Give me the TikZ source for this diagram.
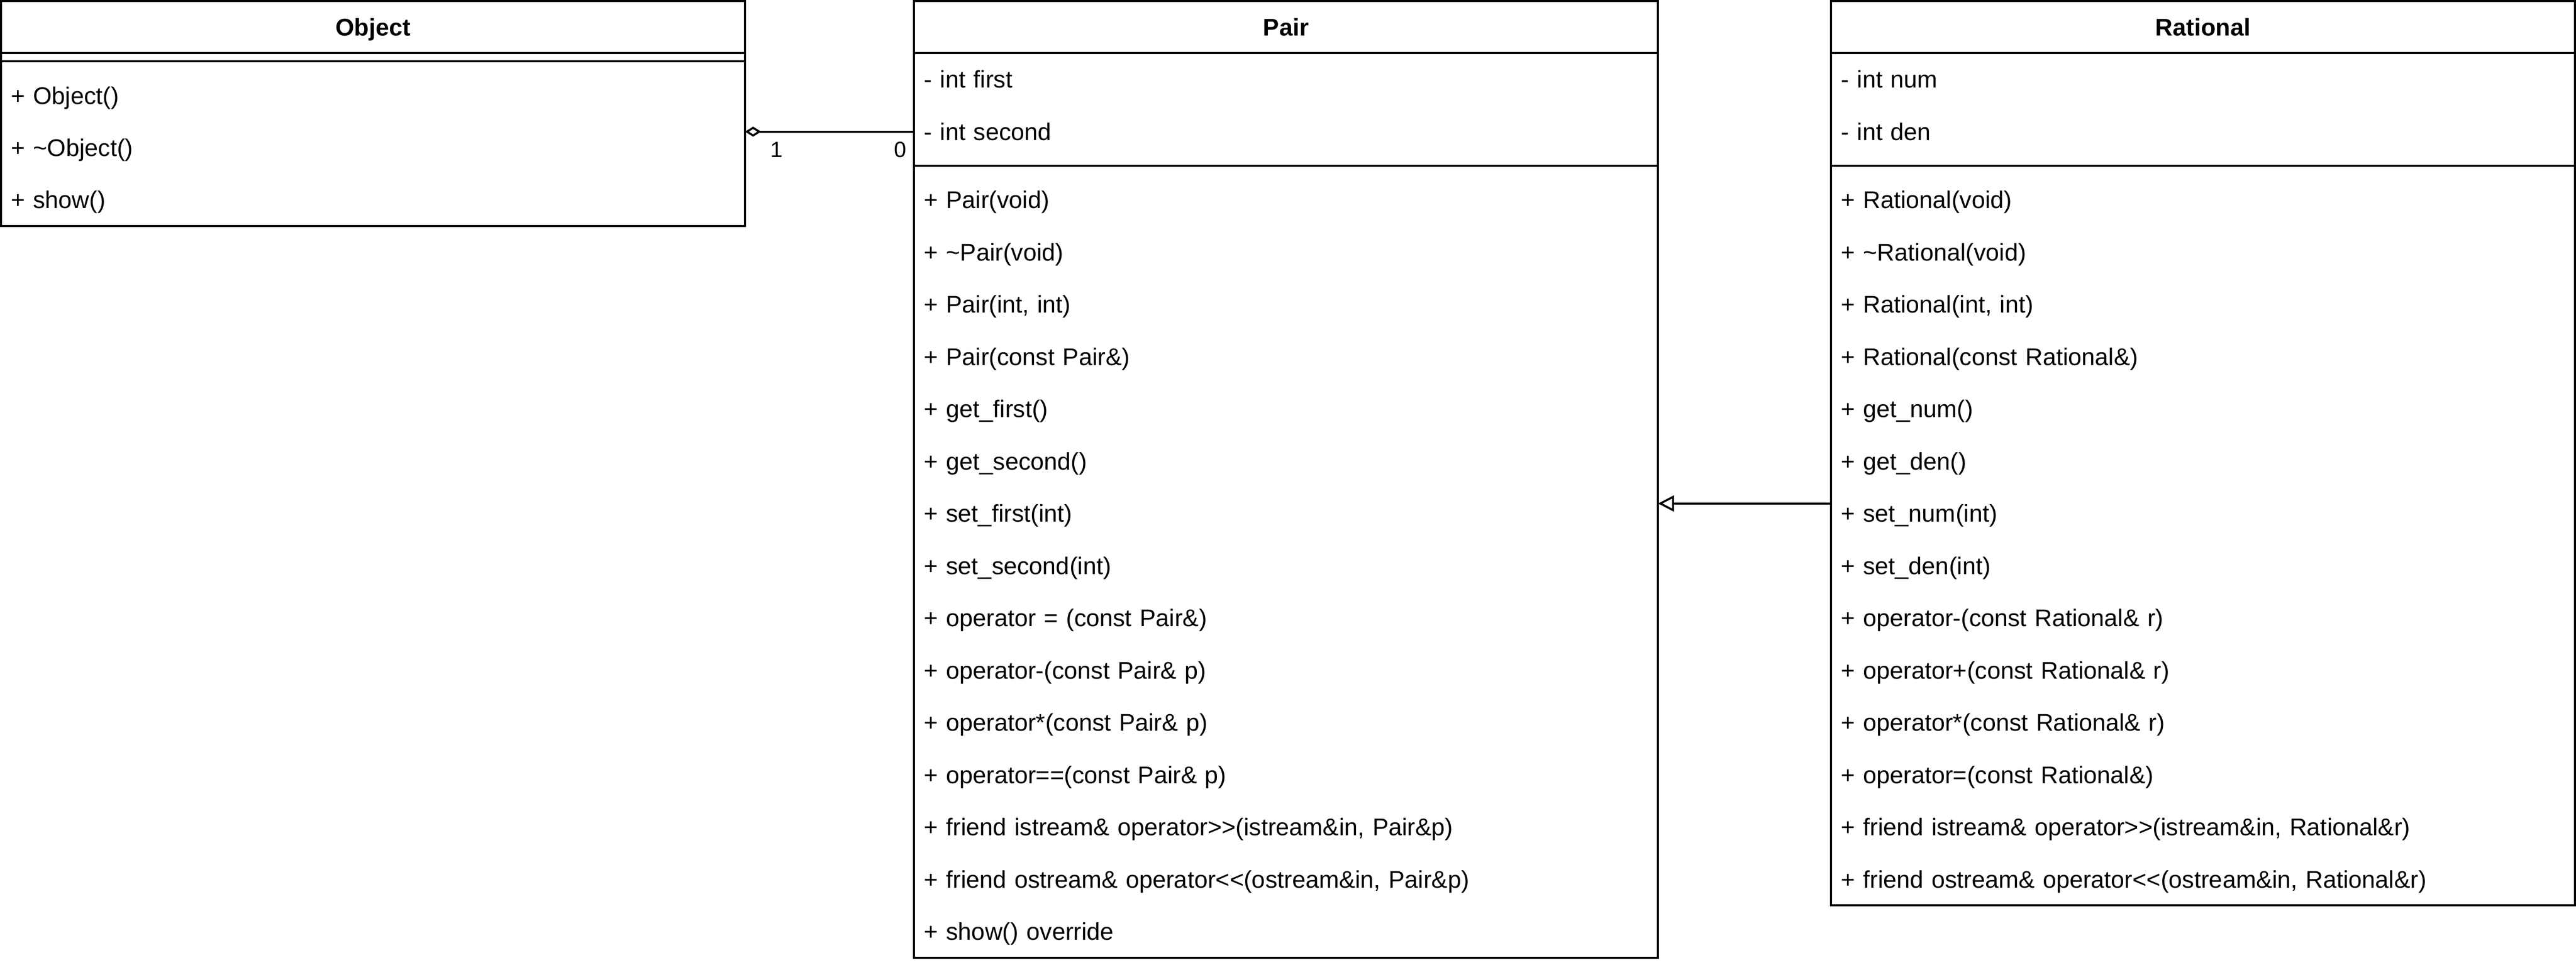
\documentclass[tikz,border=0pt]{standalone}
\usepackage{fontspec}
\usepackage{tikz}
\usetikzlibrary{arrows.meta}
\newfontfamily\umlfont{Liberation Sans}

\begin{document}
\begin{tikzpicture}[x=1pt, y=-1pt, font=\umlfont\fontsize{12pt}{14pt}\selectfont,
        classbox/.style={draw, line width=1pt, anchor=north west, minimum width=370pt, inner sep=0pt, outer sep=0pt},
        classtitle/.style={anchor=north west, minimum width=370pt, minimum height=26pt, inner sep=0pt, outer sep=0pt, text height=10.5pt, text depth=2pt, font=\umlfont\bfseries\fontsize{12pt}{14pt}\selectfont},
        member/.style={anchor=north west, text width=360pt, minimum height=26pt, inner xsep=5pt, inner ysep=0pt, outer sep=0pt, align=left, text height=10.5pt, text depth=2pt},
        mult/.style={inner sep=0pt, font=\umlfont\fontsize{11pt}{13pt}\selectfont}]
        \useasboundingbox (0,0) rectangle (1281,480);

        % Object
        \node [classbox, minimum height=112pt] (object) at (0.5,0.5) {};
        \node [classtitle] (object-title) at (0.5,0.5) {Object};
        \draw [line width=1pt] (object-title.south west) -- (object-title.south east);
        \draw [line width=1pt] ([yshift=-4pt]object-title.south west) -- ([yshift=-4pt]object-title.south east);
        \node [member] (object-ctor) at (0.5,34.5) {+ Object()};
        \node [member] (object-dtor) at (0.5,60.5) {+ \textasciitilde Object()};
        \node [member] (object-show) at (0.5,86.5) {+ show()};

        % Pair
        \node [classbox, minimum height=476pt] (pair) at (454.5,0.5) {};
        \node [classtitle] (pair-title) at (454.5,0.5) {Pair};
        \draw [line width=1pt] (pair-title.south west) -- (pair-title.south east);
        \node [member] (pair-first) at (454.5,26.5) {- int first};
        \node [member] (pair-second) at (454.5,52.5) {- int second};
        \draw [line width=1pt] ([yshift=-4pt]pair-second.south west) -- ([yshift=-4pt]pair-second.south east);
        \node [member] (pair-m1) at (454.5,86.5) {+ Pair(void)};
        \node [member] (pair-m2) at (454.5,112.5) {+ \textasciitilde Pair(void)};
        \node [member] (pair-m3) at (454.5,138.5) {+ Pair(int, int)};
        \node [member] (pair-m4) at (454.5,164.5) {+ Pair(const Pair\&)};
        \node [member] (pair-m5) at (454.5,190.5) {+ get\_first()};
        \node [member] (pair-m6) at (454.5,216.5) {+ get\_second()};
        \node [member] (pair-m7) at (454.5,242.5) {+ set\_first(int)};
        \node [member] (pair-m8) at (454.5,268.5) {+ set\_second(int)};
        \node [member] (pair-m9) at (454.5,294.5) {+ operator = (const Pair\&)};
        \node [member] (pair-m10) at (454.5,320.5) {+ operator-(const Pair\& p)};
        \node [member] (pair-m11) at (454.5,346.5) {+ operator*(const Pair\& p)};
        \node [member] (pair-m12) at (454.5,372.5) {+ operator==(const Pair\& p)};
        \node [member] (pair-m13) at (454.5,398.5) {+ friend istream\& operator>>(istream\&in, Pair\&p)};
        \node [member] (pair-m14) at (454.5,424.5) {+ friend ostream\& operator<<(ostream\&in, Pair\&p)};
        \node [member] (pair-m15) at (454.5,450.5) {+ show() override};

        % Rational
        \node [classbox, minimum height=450pt] (rational) at (910.5,0.5) {};
        \node [classtitle] (rational-title) at (910.5,0.5) {Rational};
        \draw [line width=1pt] (rational-title.south west) -- (rational-title.south east);
        \node [member] (rational-num) at (910.5,26.5) {- int num};
        \node [member] (rational-den) at (910.5,52.5) {- int den};
        \draw [line width=1pt] ([yshift=-4pt]rational-den.south west) -- ([yshift=-4pt]rational-den.south east);
        \node [member] (rational-m1) at (910.5,86.5) {+ Rational(void)};
        \node [member] (rational-m2) at (910.5,112.5) {+ \textasciitilde Rational(void)};
        \node [member] (rational-m3) at (910.5,138.5) {+ Rational(int, int)};
        \node [member] (rational-m4) at (910.5,164.5) {+ Rational(const Rational\&)};
        \node [member] (rational-m5) at (910.5,190.5) {+ get\_num()};
        \node [member] (rational-m6) at (910.5,216.5) {+ get\_den()};
        \node [member] (rational-m7) at (910.5,242.5) {+ set\_num(int)};
        \node [member] (rational-m8) at (910.5,268.5) {+ set\_den(int)};
        \node [member] (rational-m9) at (910.5,294.5) {+ operator-(const Rational\& r)};
        \node [member] (rational-m10) at (910.5,320.5) {+ operator+(const Rational\& r)};
        \node [member] (rational-m11) at (910.5,346.5) {+ operator*(const Rational\& r)};
        \node [member] (rational-m12) at (910.5,372.5) {+ operator=(const Rational\&)};
        \node [member] (rational-m13) at (910.5,398.5) {+ friend istream\& operator>>(istream\&in, Rational\&r)};
        \node [member] (rational-m14) at (910.5,424.5) {+ friend ostream\& operator<<(ostream\&in, Rational\&r)};

        % aggregation Pair -> Object
        \draw [line width=1pt, -{Diamond[open, length=8pt, width=5pt]}] (pair-second.west) -- (pair-second.west -| object.east);
        \node [mult, anchor=base west] (agg-one) at (383,78.3) {1};
        \node [mult, anchor=base east] (agg-zero) at (451,78.3) {0};

        % inheritance Rational -> Pair
        \coordinate (gen-start) at ([yshift=-250pt]rational.north west);
        \draw [line width=1pt, -{Triangle[open, length=8pt, width=8pt]}] (gen-start) -- (gen-start -| pair.east);
    \end{tikzpicture}
\end{document}
